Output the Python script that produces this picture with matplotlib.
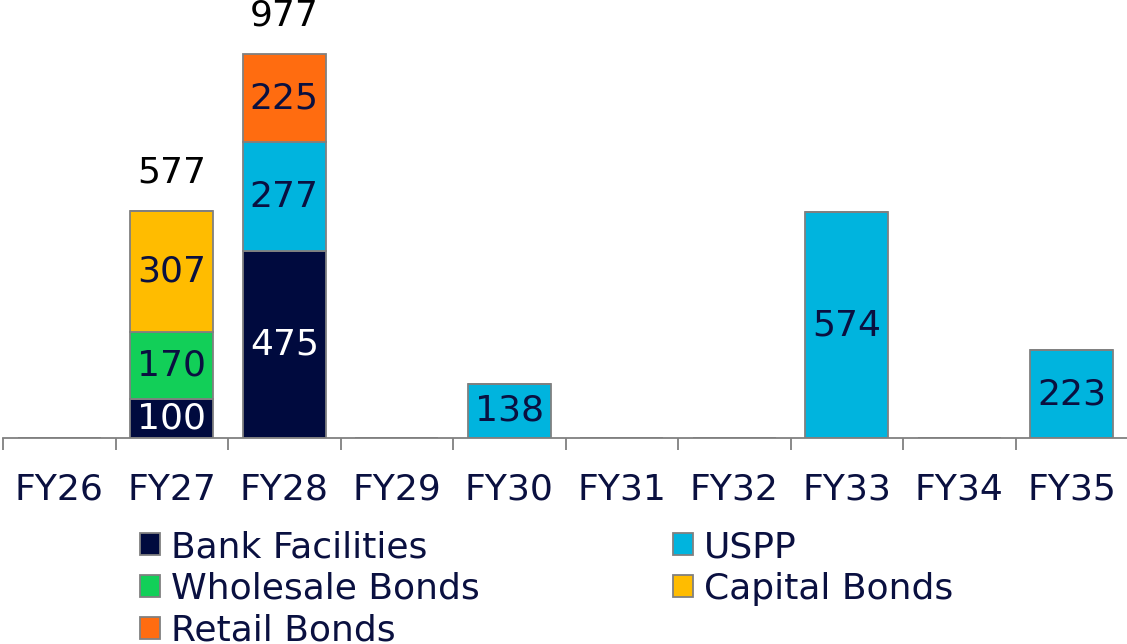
import matplotlib
matplotlib.use("Agg")
import matplotlib.pyplot as plt
from matplotlib.patches import Patch
import numpy as np

categories = ["FY26", "FY27", "FY28", "FY29", "FY30", "FY31", "FY32", "FY33", "FY34", "FY35"]
bank_facilities = [0, 100, 475, 0, 0, 0, 0, 0, 0, 0]
wholesale_bonds = [0, 170, 0, 0, 0, 0, 0, 0, 0, 0]
capital_bonds = [0, 307, 0, 0, 0, 0, 0, 0, 0, 0]
uspp = [0, 0, 277, 0, 138, 0, 0, 574, 0, 223]
retail_bonds = [0, 0, 225, 0, 0, 0, 0, 0, 0, 0]

series = [
    ("Bank Facilities", bank_facilities, "#000A3E", "white"),
    ("Wholesale Bonds", wholesale_bonds, "#12CF58", "#0A1040"),
    ("Capital Bonds", capital_bonds, "#FFBC00", "#0A1040"),
    ("USPP", uspp, "#00B4DE", "#0A1040"),
    ("Retail Bonds", retail_bonds, "#FF6C10", "#0A1040"),
]

FS = 26
NAVY = "#0A1040"
EDGE = "#808080"

fig = plt.figure(figsize=(11.27, 6.44), dpi=100)
H = 644.0
W = 1127.0
ax = fig.add_axes([3 / W, (H - 438) / H, 1125 / W, 438 / H])

x = np.arange(len(categories))
bottom = np.zeros(len(categories))
handles = {}
for name, vals, color, tcolor in series:
    v = np.array(vals, dtype=float)
    bars = ax.bar(x, v, width=0.735, bottom=bottom, color=color,
                  edgecolor=EDGE, linewidth=1.3, zorder=2)
    labels = [f"{int(val)}" if val > 0 else "" for val in v]
    ax.bar_label(bars, labels=labels, label_type="center", color=tcolor,
                 fontsize=FS)
    handles[name] = Patch(facecolor=color, edgecolor=EDGE, linewidth=1.3)
    bottom += v

totals = bottom
for i, t in enumerate(totals):
    nseg = sum(1 for _, vals, _, _ in series if vals[i] > 0)
    if nseg > 1:
        ax.annotate(f"{int(t)}", (x[i], t), xytext=(0, 27.5),
                    textcoords="offset points", ha="center", va="center",
                    fontsize=FS, color="black", annotation_clip=False)

ax.set_xlim(-0.5, len(categories) - 0.5)
ax.set_ylim(0, 1114)
for s in ["top", "right", "left"]:
    ax.spines[s].set_visible(False)
ax.spines["bottom"].set_color(EDGE)
ax.spines["bottom"].set_linewidth(1.3)
ax.set_yticks([])
ax.set_xticks(x)
ax.set_xticklabels(categories, fontsize=FS, color=NAVY)
ax.tick_params(axis="x", which="major", length=0, pad=25)
ax.set_xticks(np.arange(-0.5, len(categories)), minor=True)
ax.tick_params(axis="x", which="minor", length=8.6, width=1.3, color=EDGE)

col1 = ["Bank Facilities", "Wholesale Bonds", "Retail Bonds"]
col2 = ["USPP", "Capital Bonds"]
common = dict(frameon=False, fontsize=FS, handlelength=0.56, handleheight=0.56,
              handletextpad=0.3, labelspacing=0.22, borderpad=0,
              borderaxespad=0, loc="upper left", labelcolor=NAVY)
leg1 = fig.legend([handles[n] for n in col1], col1,
                  bbox_to_anchor=(140 / W, (H - 530) / H), **common)
leg2 = fig.legend([handles[n] for n in col2], col2,
                  bbox_to_anchor=(673 / W, (H - 530) / H), **common)

fig.savefig("out.png", dpi=100)
